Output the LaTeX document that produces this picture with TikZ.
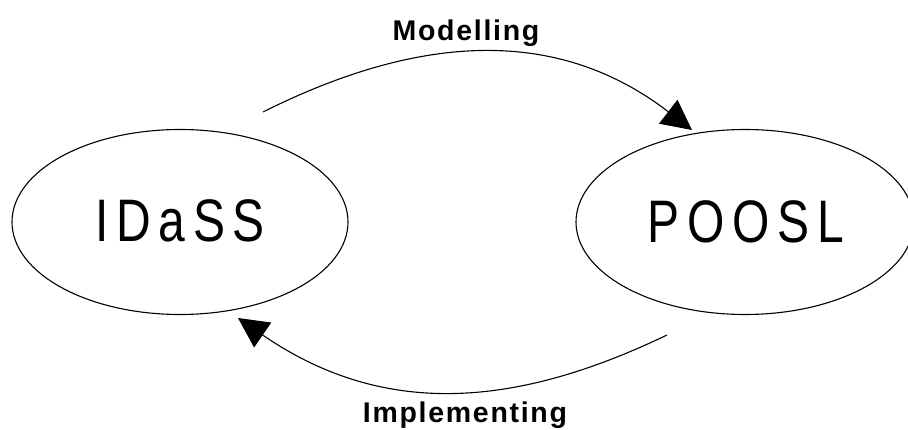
\documentclass[tikz,border=0pt]{standalone}
\usepackage{fontspec}
\setmainfont{Liberation Sans}
\newfontfamily\bigfont[FakeStretch=0.8,LetterSpace=13]{Liberation Sans}
\newfontfamily\labfont[LetterSpace=6]{Liberation Sans}
\usetikzlibrary{shapes.geometric,arrows.meta}

\tikzset{
  lang/.style={draw=black, line width=1.1pt, ellipse, inner sep=0pt,
               minimum width=336pt, minimum height=185pt},
  langname/.style={anchor=base, inner sep=0pt,
                   font=\fontsize{60}{60}\selectfont\bigfont},
  steplabel/.style={anchor=base, inner sep=0pt,
                    font=\fontsize{28.5}{28.5}\selectfont\labfont\bfseries},
  flow/.style={draw=black, line width=1.1pt,
               -{Triangle[length=30pt,width=30pt]}},
}

\begin{document}
\begin{tikzpicture}[x=1pt, y=-1pt]
  \useasboundingbox (0,0) rectangle (908,430);

  % the two languages
  \node[lang] (idass) at (180,222) {};
  \node[lang, minimum width=338pt] (poosl) at (745,222) {};
  \node[langname] (idasst) at (180,242) {IDaSS};
  \node[langname] (pooslt) at (746,243) {POOSL};

  % free ends of the two arcs
  \coordinate (mstart) at (263,112);
  \coordinate (mend)   at (692,130);
  \coordinate (istart) at (667,335);
  \coordinate (iend)   at (238,318);

  \draw[flow] (mstart) .. controls (406,40.5) and (549,20) .. (mend);
  \draw[flow] (istart) .. controls (519,406) and (386,420) .. (iend);

  % labels of the arcs
  \node[steplabel] (mlab) at (466,41) {Modelling};
  \node[steplabel] (ilab) at (465,422) {Implementing};
\end{tikzpicture}
\end{document}
